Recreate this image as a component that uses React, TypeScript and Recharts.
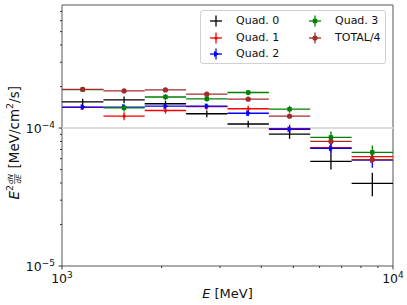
// Spectre E² dN/dE par quadrant, barres d'erreur en x (largeur du bin) et en y.
import { ErrorBar, ReferenceArea, ReferenceLine, Scatter, ScatterChart, XAxis, YAxis } from "recharts";

const binEdges = [1000, 1334, 1778, 2371, 3162, 4217, 5623, 7499, 10000];
const binCenters = [1155, 1540, 2054, 2738, 3652, 4870, 6494, 8660];

// valeurs en unités de 1e-4 MeV/cm²/s
const quad0 = [1.55, 1.6, 1.5, 1.27, 1.07, 0.905, 0.574, 0.397];
const quad1 = [1.41, 1.22, 1.34, 1.43, 1.38, 0.99, 0.72, 0.62];
const quad2 = [1.42, 1.42, 1.44, 1.44, 1.28, 0.98, 0.713, 0.586];
const quad3 = [1.9, 1.4, 1.68, 1.63, 1.81, 1.37, 0.856, 0.667];
const total4 = [1.91, 1.86, 1.89, 1.76, 1.62, 1.22, 0.8, 0.59];

const err0 = [0.08, 0.09, 0.08, 0.07, 0.06, 0.07, 0.074, 0.077];
const err1 = [0.06, 0.08, 0.07, 0.07, 0.07, 0.07, 0.07, 0.06];
const err2 = [0.05, 0.06, 0.06, 0.06, 0.06, 0.06, 0.06, 0.07];
const err3 = [0.06, 0.08, 0.08, 0.08, 0.08, 0.08, 0.088, 0.08];
const errTotal = [0.03, 0.03, 0.03, 0.03, 0.03, 0.03, 0.03, 0.03];

const UNIT = 1e-4;

const xTicks = [1000, 2000, 3000, 4000, 5000, 6000, 7000, 8000, 9000, 10000];
const yTicks = [1e-5, 2e-5, 3e-5, 4e-5, 5e-5, 6e-5, 7e-5, 8e-5, 9e-5, 1e-4, 2e-4, 3e-4, 4e-4, 5e-4, 6e-4, 7e-4];

const FONT = "DejaVu Sans, sans-serif";
const W = 407;
const H = 305;

type MarkerKind = "none" | "point" | "tri" | "square" | "circle";

type Series = {
  name: string;
  color: string;
  marker: MarkerKind;
  values: number[];
  errors: number[];
};

const series: Series[] = [
  { name: "Quad. 0", color: "#000000", marker: "none", values: quad0, errors: err0 },
  { name: "Quad. 1", color: "#ff0000", marker: "point", values: quad1, errors: err1 },
  { name: "Quad. 2", color: "#0000ff", marker: "tri", values: quad2, errors: err2 },
  { name: "Quad. 3", color: "#008000", marker: "square", values: quad3, errors: err3 },
  { name: "TOTAL/4", color: "#a52a2a", marker: "circle", values: total4, errors: errTotal },
];

function buildRows(s: Series) {
  return binCenters.map((x, i) => ({
    x,
    y: s.values[i] * UNIT,
    xErr: [x - binEdges[i], binEdges[i + 1] - x],
    yErr: s.errors[i] * UNIT,
  }));
}

function MarkerGlyph({ kind, color, cx, cy }: { kind: MarkerKind; color: string; cx: number; cy: number }) {
  if (kind === "point") return <circle cx={cx} cy={cy} r={1.6} fill={color} />;
  if (kind === "tri")
    return <polygon points={`${cx + 3},${cy} ${cx - 2},${cy - 3} ${cx - 2},${cy + 3}`} fill={color} />;
  if (kind === "square") return <rect x={cx - 2.2} y={cy - 2.2} width={4.4} height={4.4} fill={color} />;
  if (kind === "circle") return <circle cx={cx} cy={cy} r={2.6} fill={color} />;
  return <g />;
}

const isMajor = (v: number) => Math.abs(Math.log10(v) - Math.round(Math.log10(v))) < 1e-9;

function XTick({ x, y, payload }: any) {
  const major = isMajor(payload.value);
  return (
    <g>
      <line x1={x} x2={x} y1={y} y2={y + (major ? 3.5 : 2)} stroke="#222" strokeWidth={0.9} />
      {major && (
        <text x={x} y={y + 16.5} textAnchor="middle" fontSize={12.5} fontFamily={FONT} fill="#111">
          10
          <tspan fontSize={9} dy={-5}>
            {Math.round(Math.log10(payload.value))}
          </tspan>
        </text>
      )}
    </g>
  );
}

function YTick({ x, y, payload }: any) {
  const major = isMajor(payload.value);
  const exp = Math.round(Math.log10(payload.value));
  return (
    <g>
      <line x1={x - (major ? 3.5 : 2)} x2={x} y1={y} y2={y} stroke="#222" strokeWidth={0.9} />
      {major && (
        <text x={x - 7} y={y + 4.5} textAnchor="end" fontSize={12.5} fontFamily={FONT} fill="#111">
          10
          <tspan fontSize={9} dy={-5}>
            {"\u2212" + Math.abs(exp)}
          </tspan>
        </text>
      )}
    </g>
  );
}

function YLabel({ viewBox }: any) {
  const cy = viewBox.y + viewBox.height / 2 + 5;
  const u0 = -59;
  return (
    <g transform={`translate(18.5, ${cy}) rotate(-90)`} fontFamily={FONT} fill="#111">
      <text x={u0} y={0} fontSize={13.5}>
        <tspan fontStyle="italic">E</tspan>
        <tspan fontSize={9.5} dy={-5.5}>2</tspan>
      </text>
      <text x={u0 + 20.5} y={-5.5} fontSize={7.2} fontStyle="italic" textAnchor="middle">dN</text>
      <line x1={u0 + 15.5} x2={u0 + 25.5} y1={-3.8} y2={-3.8} stroke="#111" strokeWidth={0.6} />
      <text x={u0 + 20.5} y={2.5} fontSize={7.2} fontStyle="italic" textAnchor="middle">dE</text>
      <text x={u0 + 31} y={0} fontSize={13.5}>
        [MeV/cm
        <tspan fontSize={9.5} dy={-5.5}>2</tspan>
        <tspan dy={5.5}>/s]</tspan>
      </text>
    </g>
  );
}

function XLabel({ viewBox }: any) {
  return (
    <text
      x={viewBox.x + viewBox.width / 2}
      y={viewBox.y + 32}
      textAnchor="middle"
      fontSize={13}
      fontFamily={FONT}
      fill="#111"
    >
      <tspan fontStyle="italic">E</tspan> [MeV]
    </text>
  );
}

function LegendHandle({ s }: { s: Series }) {
  return (
    <svg width={16} height={14} style={{ position: "absolute", left: -8, top: -7 }}>
      <line x1={2} x2={14} y1={7} y2={7} stroke={s.color} strokeWidth={1.3} />
      <line x1={8} x2={8} y1={1.5} y2={12.5} stroke={s.color} strokeWidth={1.3} />
      <MarkerGlyph kind={s.marker} color={s.color} cx={8} cy={7} />
    </svg>
  );
}

function LegendBox() {
  const slots = [
    { hx: 15, tx: 35, ry: 10 },
    { hx: 15, tx: 35, ry: 27 },
    { hx: 15, tx: 35, ry: 43 },
    { hx: 114, tx: 134, ry: 10 },
    { hx: 114, tx: 134, ry: 27 },
  ];
  return (
    <div
      style={{
        position: "absolute",
        left: 200,
        top: 10,
        width: 184,
        height: 52,
        border: "1px solid #d0d0d0",
        borderRadius: 3,
        background: "rgba(255,255,255,0.85)",
        fontFamily: FONT,
        fontSize: 11,
        color: "#111",
      }}
    >
      {series.map((s, i) => (
        <div key={s.name}>
          <div style={{ position: "absolute", left: slots[i].hx, top: slots[i].ry }}>
            <LegendHandle s={s} />
          </div>
          <div style={{ position: "absolute", left: slots[i].tx, top: slots[i].ry - 7, lineHeight: "14px", whiteSpace: "nowrap" }}>
            {s.name}
          </div>
        </div>
      ))}
    </div>
  );
}

export default function App() {
  return (
    <div style={{ position: "absolute", left: 0, top: 0, width: W, height: H, background: "#fff" }}>
      <ScatterChart width={W} height={H} margin={{ top: 5, right: 14, bottom: 0, left: 0 }}>
        <XAxis
          type="number"
          dataKey="x"
          scale="log"
          domain={[1000, 10000]}
          allowDataOverflow
          ticks={xTicks}
          interval={0}
          tick={<XTick />}
          tickLine={false}
          tickSize={0}
          tickMargin={0}
          axisLine={false}
          height={39}
          label={<XLabel />}
        />
        <YAxis
          type="number"
          dataKey="y"
          scale="log"
          domain={[1e-5, 7.8e-4]}
          allowDataOverflow
          ticks={yTicks}
          interval={0}
          tick={<YTick />}
          tickLine={false}
          tickSize={0}
          tickMargin={0}
          axisLine={false}
          width={62}
          label={<YLabel />}
        />
        <ReferenceLine y={1e-4} stroke="#dcdcdc" strokeWidth={2} />
        {series.map((s) => (
          <Scatter
            key={s.name}
            name={s.name}
            data={buildRows(s)}
            isAnimationActive={false}
            shape={(p: any) => <MarkerGlyph kind={s.marker} color={s.color} cx={p.cx} cy={p.cy} />}
          >
            <ErrorBar dataKey="xErr" direction="x" width={0} stroke={s.color} strokeWidth={1.3} isAnimationActive={false} />
            <ErrorBar dataKey="yErr" direction="y" width={0} stroke={s.color} strokeWidth={1.3} isAnimationActive={false} />
          </Scatter>
        ))}
        <ReferenceArea x1={1000} x2={10000} y1={1e-5} y2={7.8e-4} fill="none" fillOpacity={0} stroke="#555" strokeWidth={1} />
      </ScatterChart>
      <LegendBox />
    </div>
  );
}
